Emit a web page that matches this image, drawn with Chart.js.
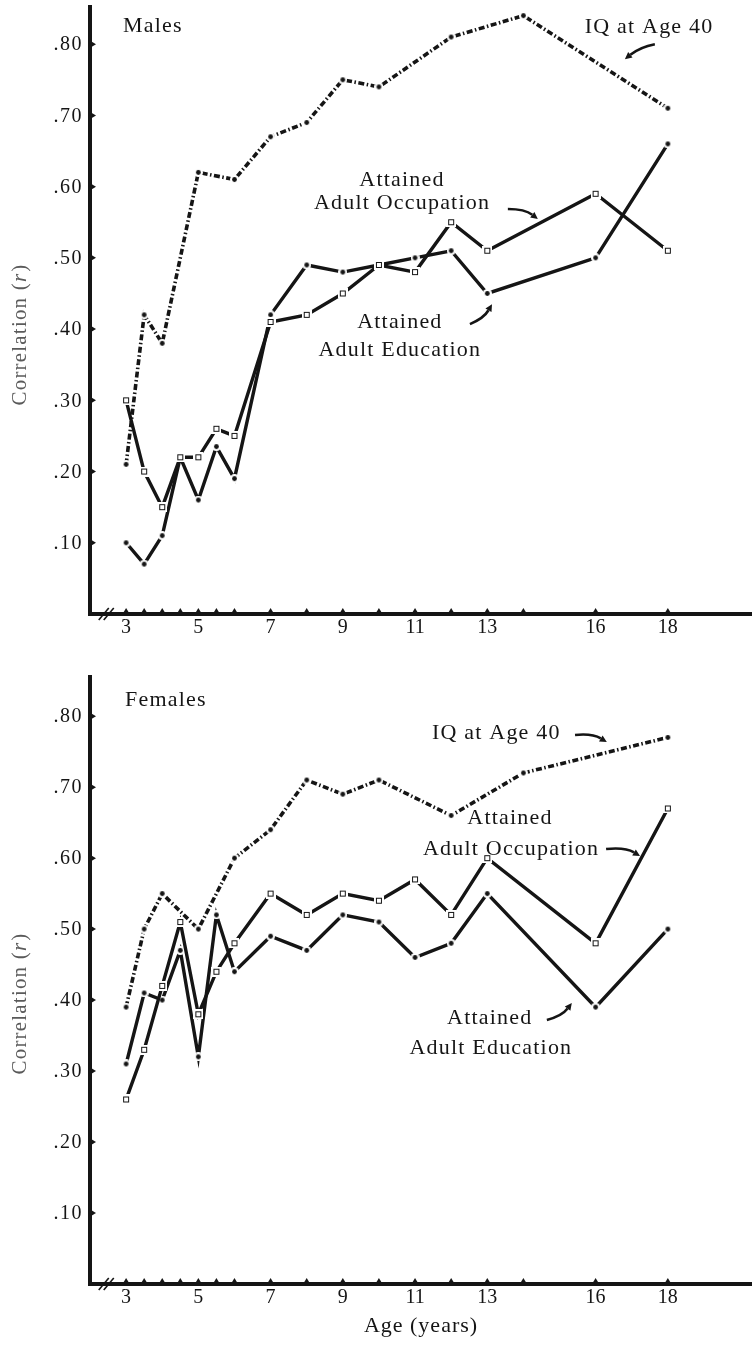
<!DOCTYPE html>
<html>
<head>
<meta charset="utf-8">
<script src="https://cdn.jsdelivr.net/npm/chart.js@4.4.1/dist/chart.umd.min.js"></script>
<style>
  html, body { margin: 0; padding: 0; background: #fff; }
  canvas { display: block; }
</style>
</head>
<body>
<canvas id="chart-males" width="752" height="640"></canvas>
<canvas id="chart-females" width="752" height="706"></canvas>
<script>
(function () {
  'use strict';

  // 나이(세) - attained 계열은 같은 나이 축, IQ 계열은 점이 더 적음
  const AGES = [3, 3.5, 4, 4.5, 5, 5.5, 6, 7, 8, 9, 10, 11, 12, 13, 16, 18];
  const IQ_AGES = [3, 3.5, 4, 5, 6, 7, 8, 9, 10, 12, 14, 18];

  const MALE_IQ = [0.21, 0.42, 0.38, 0.62, 0.61, 0.67, 0.69, 0.75, 0.74, 0.81, 0.84, 0.71];
  const MALE_OCC = [0.30, 0.20, 0.15, 0.22, 0.22, 0.26, 0.25, 0.41, 0.42, 0.45, 0.49, 0.48, 0.55, 0.51, 0.59, 0.51];
  const MALE_EDU = [0.10, 0.07, 0.11, 0.22, 0.16, 0.235, 0.19, 0.42, 0.49, 0.48, 0.49, 0.50, 0.51, 0.45, 0.50, 0.66];

  const FEMALE_IQ = [0.39, 0.50, 0.55, 0.50, 0.60, 0.64, 0.71, 0.69, 0.71, 0.66, 0.72, 0.77];
  const FEMALE_OCC = [0.26, 0.33, 0.42, 0.51, 0.38, 0.44, 0.48, 0.55, 0.52, 0.55, 0.54, 0.57, 0.52, 0.60, 0.48, 0.67];
  const FEMALE_EDU = [0.31, 0.41, 0.40, 0.47, 0.32, 0.52, 0.44, 0.49, 0.47, 0.52, 0.51, 0.46, 0.48, 0.55, 0.39, 0.50];

  const TICK_AGES = [3, 3.5, 4, 4.5, 5, 5.5, 6, 7, 8, 9, 10, 11, 12, 13, 14, 16, 18];
  const LABEL_AGES = [3, 5, 7, 9, 11, 13, 16, 18];
  const Y_TICKS = [0.1, 0.2, 0.3, 0.4, 0.5, 0.6, 0.7, 0.8];

  const INK = '#151515';
  const SERIF = '"Liberation Serif", "DejaVu Serif", serif';

  const PANELS = [
    {
      id: 'chart-males', pad: { left: 90, right: 0, top: 5, bottom: 26 }, yMax: 0.855,
      iq: MALE_IQ, occ: MALE_OCC, edu: MALE_EDU,
      yTitleY: 335, xTitle: null,
      notes: [
        { text: 'Males', x: 2.914, y: 0.8255, align: 'left' },
        { text: 'IQ at Age 40', x: 15.70, y: 0.824, align: 'left' },
        { text: 'Attained', x: 10.64, y: 0.609, align: 'center' },
        { text: 'Adult Occupation', x: 10.64, y: 0.577, align: 'center' },
        { text: 'Attained', x: 10.58, y: 0.410, align: 'center' },
        { text: 'Adult Education', x: 10.58, y: 0.3706, align: 'center' }
      ],
      arrows: [
        { from: [17.64, 0.800], ctrl: [17.23, 0.796], to: [16.81, 0.779] },
        { from: [13.57, 0.5686], ctrl: [14.04, 0.5686], to: [14.40, 0.5545] },
        { from: [12.52, 0.407], ctrl: [12.91, 0.4155], to: [13.13, 0.435] }
      ]
    },
    {
      id: 'chart-females', pad: { left: 90, right: 0, top: 35, bottom: 62 }, yMax: 0.858,
      iq: FEMALE_IQ, occ: FEMALE_OCC, edu: FEMALE_EDU,
      yTitleY: 364, xTitle: 'Age (years)',
      notes: [
        { text: 'Females', x: 2.969, y: 0.8228, align: 'left' },
        { text: 'IQ at Age 40', x: 11.47, y: 0.776, align: 'left' },
        { text: 'Attained', x: 13.63, y: 0.6565, align: 'center' },
        { text: 'Adult Occupation', x: 13.66, y: 0.6128, align: 'center' },
        { text: 'Attained', x: 13.07, y: 0.3748, align: 'center' },
        { text: 'Adult Education', x: 13.10, y: 0.3325, align: 'center' }
      ],
      arrows: [
        { from: [15.43, 0.7735], ctrl: [15.90, 0.776], to: [16.31, 0.7636] },
        { from: [16.29, 0.6128], ctrl: [16.81, 0.6157], to: [17.23, 0.603] },
        { from: [14.65, 0.372], ctrl: [15.07, 0.3776], to: [15.34, 0.396] }
      ]
    }
  ];

  function pairs(xs, ys) {
    return xs.map(function (x, i) { return { x: x, y: ys[i] }; });
  }

  // 점 모양: 흰 테두리로 선이 점 앞에서 끊겨 보이게
  function makeDot() {
    var c = document.createElement('canvas');
    c.width = 9; c.height = 9;
    var g = c.getContext('2d');
    g.fillStyle = '#fff';
    g.beginPath(); g.arc(4.5, 4.5, 4.5, 0, Math.PI * 2); g.fill();
    g.fillStyle = INK;
    g.beginPath(); g.arc(4.5, 4.5, 2.4, 0, Math.PI * 2); g.fill();
    return c;
  }
  function makeSquare() {
    var c = document.createElement('canvas');
    c.width = 10; c.height = 10;
    var g = c.getContext('2d');
    g.fillStyle = '#fff';
    g.fillRect(0, 0, 10, 10);
    g.strokeStyle = INK;
    g.lineWidth = 1;
    g.strokeRect(2.5, 2.5, 5, 5);
    return c;
  }
  var DOT = makeDot();
  var SQUARE = makeSquare();

  function drawText(ctx, text, x, y, align, spacing) {
    ctx.letterSpacing = spacing || '0px';
    ctx.textAlign = align;
    ctx.fillText(text, x, y);
  }

  function drawArrow(ctx, xs, ys, a) {
    var x0 = xs.getPixelForValue(a.from[0]), y0 = ys.getPixelForValue(a.from[1]);
    var cx = xs.getPixelForValue(a.ctrl[0]), cy = ys.getPixelForValue(a.ctrl[1]);
    var x1 = xs.getPixelForValue(a.to[0]), y1 = ys.getPixelForValue(a.to[1]);
    var ang = Math.atan2(y1 - cy, x1 - cx);
    var bx = x1 - Math.cos(ang) * 7, by = y1 - Math.sin(ang) * 7;
    ctx.lineWidth = 2.6;
    ctx.beginPath();
    ctx.moveTo(x0, y0);
    ctx.quadraticCurveTo(cx, cy, bx, by);
    ctx.stroke();
    ctx.beginPath();
    ctx.moveTo(x1, y1);
    ctx.lineTo(bx + Math.sin(ang) * 3.5, by - Math.cos(ang) * 3.5);
    ctx.lineTo(bx - Math.sin(ang) * 3.5, by + Math.cos(ang) * 3.5);
    ctx.closePath();
    ctx.fill();
  }

  var paperAxes = {
    id: 'paperAxes',
    beforeDatasetsDraw: function (chart) {
      var ctx = chart.ctx, area = chart.chartArea;
      var xs = chart.scales.x, ys = chart.scales.y;
      ctx.save();
      ctx.strokeStyle = INK;
      ctx.fillStyle = INK;
      ctx.lineCap = 'butt';

      // 축선
      ctx.lineWidth = 4;
      ctx.beginPath();
      ctx.moveTo(area.left, area.top);
      ctx.lineTo(area.left, area.bottom + 2);
      ctx.stroke();
      ctx.beginPath();
      ctx.moveTo(area.left - 2, area.bottom);
      ctx.lineTo(area.right, area.bottom);
      ctx.stroke();

      // 축 끊김 표시 //
      var bx = xs.getPixelForValue(2.45);
      ctx.lineWidth = 1.6;
      [-2.5, 2.5].forEach(function (d) {
        ctx.beginPath();
        ctx.moveTo(bx + d - 5, area.bottom + 6);
        ctx.lineTo(bx + d + 5, area.bottom - 6);
        ctx.stroke();
      });

      // y 눈금 (삼각형) + 라벨
      ctx.font = '20px ' + SERIF;
      ctx.textBaseline = 'middle';
      Y_TICKS.forEach(function (v) {
        var y = ys.getPixelForValue(v);
        ctx.beginPath();
        ctx.moveTo(area.left + 1, y - 3);
        ctx.lineTo(area.left + 6, y);
        ctx.lineTo(area.left + 1, y + 3);
        ctx.closePath();
        ctx.fill();
        drawText(ctx, v.toFixed(2).replace('0.', '.'), area.left - 7, y + 1, 'right', '1.5px');
      });

      // x 눈금 + 라벨
      TICK_AGES.forEach(function (a) {
        var x = xs.getPixelForValue(a);
        ctx.beginPath();
        ctx.moveTo(x - 3, area.bottom - 1);
        ctx.lineTo(x, area.bottom - 6);
        ctx.lineTo(x + 3, area.bottom - 1);
        ctx.closePath();
        ctx.fill();
      });
      LABEL_AGES.forEach(function (a) {
        drawText(ctx, String(a), xs.getPixelForValue(a), area.bottom + 14, 'center', '0px');
      });
      ctx.restore();
    },
    afterDraw: function (chart) {
      var ctx = chart.ctx, area = chart.chartArea;
      var xs = chart.scales.x, ys = chart.scales.y;
      var panel = chart.options.plugins.paperAxes.panel;
      ctx.save();
      ctx.fillStyle = INK;
      ctx.strokeStyle = INK;
      ctx.textBaseline = 'middle';
      ctx.font = '22px ' + SERIF;
      panel.notes.forEach(function (n) {
        drawText(ctx, n.text, xs.getPixelForValue(n.x), ys.getPixelForValue(n.y), n.align, '1.2px');
      });
      panel.arrows.forEach(function (a) { drawArrow(ctx, xs, ys, a); });

      // y 축 제목 (r 은 이탤릭)
      ctx.save();
      ctx.translate(20, panel.yTitleY);
      ctx.rotate(-Math.PI / 2);
      ctx.fillStyle = '#5a5a5a';
      ctx.letterSpacing = '1.2px';
      ctx.textAlign = 'left';
      var upright = '21px ' + SERIF, italic = 'italic 21px ' + SERIF;
      ctx.font = upright;
      var w1 = ctx.measureText('Correlation (').width;
      var w3 = ctx.measureText(')').width;
      ctx.font = italic;
      var w2 = ctx.measureText('r').width;
      var x = -(w1 + w2 + w3) / 2;
      ctx.font = upright;
      ctx.fillText('Correlation (', x, 0);
      ctx.font = italic;
      ctx.fillText('r', x + w1, 0);
      ctx.font = upright;
      ctx.fillText(')', x + w1 + w2 + 1, 0);
      ctx.restore();

      if (panel.xTitle) {
        ctx.font = '22px ' + SERIF;
        drawText(ctx, panel.xTitle, (area.left + area.right) / 2, area.bottom + 42, 'center', '1px');
      }
      ctx.restore();
    }
  };

  function lineSet(label, data, style) {
    return Object.assign({
      label: label,
      data: data,
      borderColor: INK,
      backgroundColor: INK,
      borderWidth: 3.4,
      tension: 0,
      fill: false,
      pointRadius: 4,
      pointHoverRadius: 4,
      borderCapStyle: 'butt',
      borderJoinStyle: 'miter'
    }, style);
  }

  function makePanel(panel) {
    var el = document.getElementById(panel.id);
    return new Chart(el, {
      type: 'line',
      data: {
        datasets: [
          lineSet('IQ at Age 40', pairs(IQ_AGES, panel.iq), { borderWidth: 3.6, borderDash: [6, 2.5, 1.5, 2.5], pointStyle: DOT }),
          lineSet('Attained Adult Occupation', pairs(AGES, panel.occ), { pointStyle: SQUARE }),
          lineSet('Attained Adult Education', pairs(AGES, panel.edu), { pointStyle: DOT })
        ]
      },
      options: {
        responsive: false,
        animation: false,
        events: [],
        layout: { padding: panel.pad, autoPadding: false },
        scales: {
          x: { type: 'linear', min: 2, max: 20.33, display: false },
          y: { type: 'linear', min: 0, max: panel.yMax, display: false }
        },
        plugins: {
          legend: { display: false },
          tooltip: { enabled: false },
          paperAxes: { panel: panel }
        }
      },
      plugins: [paperAxes]
    });
  }

  PANELS.forEach(makePanel);
})();
</script>
</body>
</html>
